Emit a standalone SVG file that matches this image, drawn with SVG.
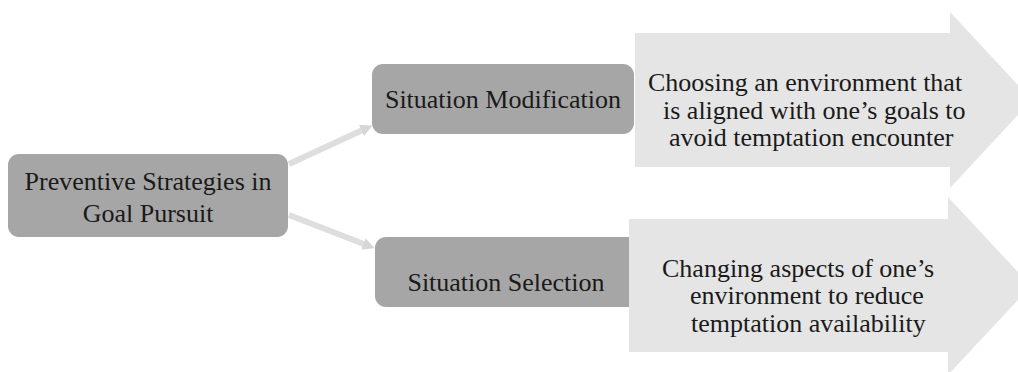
<svg xmlns="http://www.w3.org/2000/svg" width="1018" height="372" viewBox="0 0 1018 372">
<style>
.box{fill:#a6a6a6;}
.arr{fill:#e5e5e5;}
.t{font-family:"Liberation Serif","Times New Roman",serif;font-size:26px;fill:#1a1a1a;}
.c{stroke:#dedede;stroke-width:6;fill:none;stroke-linecap:butt;}
</style>
<defs>
<marker id="ah" viewBox="0 0 10 10" refX="5" refY="5" markerWidth="2" markerHeight="2" orient="auto" markerUnits="strokeWidth">
<path d="M0,0 L10,5 L0,10 z" fill="#d6d6d6"/>
</marker>
</defs>
<rect width="1018" height="372" fill="#ffffff"/>
<g id="connectors">
<line class="c" x1="289" y1="164" x2="367" y2="128" marker-end="url(#ah)"/>
<line class="c" x1="289" y1="215" x2="369" y2="246" marker-end="url(#ah)"/>
</g>
<g id="node-root">
<rect class="box" x="8" y="154" width="280" height="83" rx="11"/>
<text class="t" x="148" y="190" text-anchor="middle">Preventive Strategies in</text>
<text class="t" x="148" y="222" text-anchor="middle">Goal Pursuit</text>
</g>
<g id="node-modification">
<rect class="box" x="372" y="64" width="262" height="70" rx="11"/>
<text class="t" x="503" y="108" text-anchor="middle">Situation Modification</text>
</g>
<g id="node-selection">
<rect class="box" x="375" y="237" width="270" height="70" rx="11"/>
<text class="t" x="506" y="291" text-anchor="middle">Situation Selection</text>
</g>
<g id="arrow-modification">
<polygon class="arr" points="635,33 950,33 950,12 1032,100 950,188 950,167 635,167"/>
<text class="t" x="648" y="91">Choosing an environment that</text>
<text class="t" x="663" y="119">is aligned with one’s goals to</text>
<text class="t" x="669" y="146">avoid temptation encounter</text>
</g>
<g id="arrow-selection">
<polygon class="arr" points="629,219 948,219 948,197 1031,286 948,375 948,352 629,352"/>
<text class="t" x="662" y="277">Changing aspects of one’s</text>
<text class="t" x="690" y="304">environment to reduce</text>
<text class="t" x="691" y="332">temptation availability</text>
</g>
</svg>
